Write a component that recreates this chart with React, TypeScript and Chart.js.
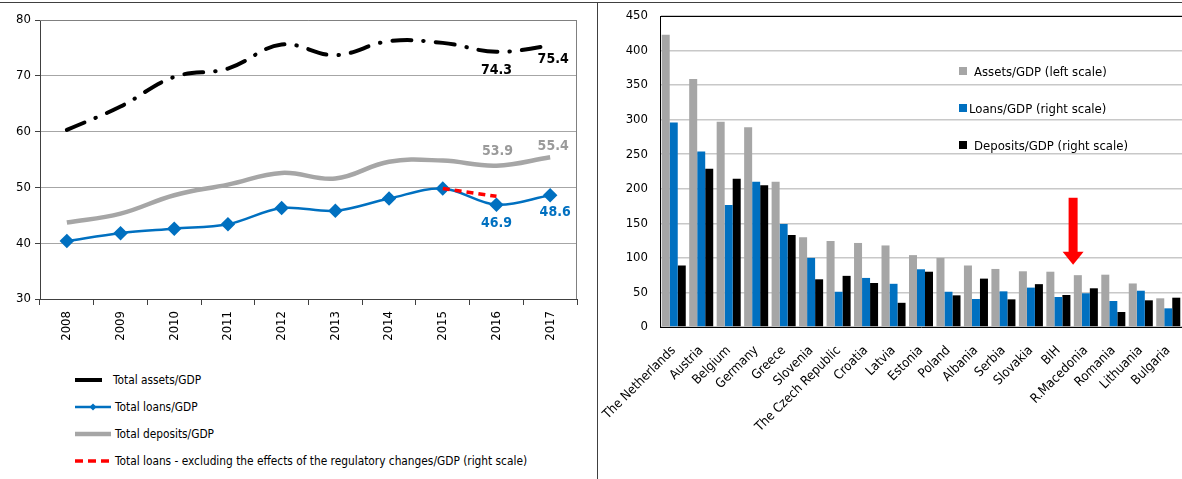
import React, { useEffect, useRef } from "react";
import { Chart, registerables } from "chart.js";
Chart.register(...registerables);

const FONT = '"DejaVu Sans Condensed", "Liberation Sans", sans-serif';

// Left chart data
const years = ["2008", "2009", "2010", "2011", "2012", "2013", "2014", "2015", "2016", "2017"];
const totalAssets = [60.3, 64.5, 69.8, 71.3, 75.6, 73.7, 76.2, 75.9, 74.3, 75.4];
const totalDeposits = [43.7, 45.3, 48.6, 50.5, 52.6, 51.6, 54.6, 54.8, 53.9, 55.4];
const totalLoans = [40.4, 41.8, 42.6, 43.4, 46.3, 45.8, 48.0, 49.8, 46.9, 48.6];
const loansExclRegulatory = [null, null, null, null, null, null, null, 49.8, 48.4, null];
const leftTicks = [30, 40, 50, 60, 70, 80];

// Right chart data
const countries = [
  "The Netherlands", "Austria", "Belgium", "Germany", "Greece", "Slovenia", "The Czech Republic",
  "Croatia", "Latvia", "Estonia", "Poland", "Albania", "Serbia", "Slovakia", "BIH",
  "R.Macedonia", "Romania", "Lithuania", "Bulgaria",
];
const assetsGdp = [423, 359, 297, 289, 210, 130, 124.5, 121.6, 118, 104, 100, 89, 84, 80.6, 80, 75, 75.7, 63, 41.5];
const loansGdp = [296, 254, 176.6, 210, 149, 100, 51, 71, 62.5, 83.5, 51, 40.5, 51.6, 57, 43.4, 48.8, 37.6, 52.5, 27];
const depositsGdp = [89, 229, 214.6, 205, 133, 69, 74, 63.7, 35, 80, 45.8, 70, 40, 62, 46.3, 56, 21.7, 38.6, 42.4];
const rightTicks = [0, 50, 100, 150, 200, 250, 300, 350, 400, 450];
const arrowTopValue = 187;
const arrowTipValue = 90;

const leftLegend = [
  { label: "Total assets/GDP", kind: "assets" },
  { label: "Total loans/GDP", kind: "loans" },
  { label: "Total deposits/GDP", kind: "deposits" },
  { label: "Total loans - excluding the effects of the regulatory changes/GDP (right scale)", kind: "red" },
];
const rightLegend = [
  { label: "Assets/GDP (left scale)", color: "#A6A6A6", gap: 7 },
  { label: "Loans/GDP (right scale)", color: "#0070C0", gap: 2 },
  { label: "Deposits/GDP (right scale)", color: "#000000", gap: 7 },
];

function LeftChart() {
  const ref = useRef<HTMLCanvasElement>(null);
  useEffect(() => {
    const canvas = ref.current!;
    const labelsPlugin = {
      id: "endLabels",
      afterDatasetsDraw(chart: any) {
        const ctx = chart.ctx;
        const x = chart.scales.x;
        const y = chart.scales.y;
        const items = [
          { v: totalAssets, i: 8, dx: 0, dy: 19, c: "#000000" },
          { v: totalAssets, i: 9, dx: 3, dy: 14, c: "#000000" },
          { v: totalDeposits, i: 8, dx: 1, dy: -14, c: "#9A9A9A" },
          { v: totalDeposits, i: 9, dx: 3, dy: -11, c: "#9A9A9A" },
          { v: totalLoans, i: 8, dx: 0, dy: 19, c: "#0070C0" },
          { v: totalLoans, i: 9, dx: 5, dy: 17, c: "#0070C0" },
        ];
        ctx.save();
        ctx.font = `bold 14px ${FONT}`;
        ctx.textAlign = "center";
        ctx.textBaseline = "middle";
        for (const it of items) {
          ctx.fillStyle = it.c;
          ctx.fillText(it.v[it.i].toFixed(1), x.getPixelForValue(it.i) + it.dx, y.getPixelForValue(it.v[it.i]) + it.dy);
        }
        ctx.restore();
      },
      beforeDatasetsDraw(chart: any) {
        const { ctx, chartArea } = chart;
        ctx.save();
        ctx.strokeStyle = "#808080";
        ctx.lineWidth = 1;
        ctx.beginPath();
        ctx.moveTo(chartArea.left, chartArea.top + 0.5);
        ctx.lineTo(chartArea.right, chartArea.top + 0.5);
        ctx.moveTo(chartArea.right - 0.5, chartArea.top);
        ctx.lineTo(chartArea.right - 0.5, chartArea.bottom);
        ctx.stroke();
        ctx.restore();
      },
    };
    const chart = new Chart(canvas, {
      type: "line",
      data: {
        labels: years,
        datasets: [
          {
            label: "Total loans - excluding the effects of the regulatory changes/GDP (right scale)",
            data: loansExclRegulatory as any,
            borderColor: "#FF0000",
            borderWidth: 3.5,
            borderDash: [7, 5],
            pointRadius: 0,
            tension: 0,
          },
          {
            label: "Total loans/GDP",
            data: totalLoans,
            borderColor: "#0070C0",
            backgroundColor: "#0070C0",
            pointBorderColor: "#0070C0",
            pointBackgroundColor: "#0070C0",
            borderWidth: 2.5,
            pointStyle: "rectRot",
            pointRadius: 5.5,
            tension: 0.35,
          },
          {
            label: "Total deposits/GDP",
            data: totalDeposits,
            borderColor: "#A6A6A6",
            borderWidth: 4.5,
            pointRadius: 0,
            tension: 0.4,
          },
          {
            label: "Total assets/GDP",
            data: totalAssets,
            borderColor: "#000000",
            borderWidth: 4,
            borderDash: [19, 12, 0.5, 12],
            borderCapStyle: "round",
            pointRadius: 0,
            tension: 0.4,
          },
        ],
      },
      options: {
        animation: false,
        responsive: false,
        maintainAspectRatio: false,
        layout: { padding: { top: 20, right: 20, left: 0, bottom: 0 } },
        plugins: { legend: { display: false }, tooltip: { enabled: false } },
        scales: {
          x: {
            offset: true,
            grid: { offset: true, drawOnChartArea: false, drawTicks: true, tickLength: 6, color: "#404040" },
            border: { color: "#404040", width: 1 },
            ticks: { minRotation: 90, maxRotation: 90, color: "#000", padding: 6, font: { family: FONT, size: 13 } },
            afterFit: (s: any) => {
              s.height = 63;
              s.paddingLeft = 0;
              s.paddingRight = 0;
            },
          },
          y: {
            min: 30,
            max: 80,
            afterBuildTicks: (s: any) => {
              s.ticks = leftTicks.map((v) => ({ value: v }));
            },
            grid: { color: "#A6A6A6", tickColor: "#404040", tickLength: 5, drawTicks: true },
            border: { color: "#404040", width: 1 },
            ticks: { color: "#000", padding: 4, font: { family: FONT, size: 13 } },
            afterFit: (s: any) => {
              s.width = 40;
              s.paddingTop = 0;
              s.paddingBottom = 0;
            },
          },
        },
      },
      plugins: [labelsPlugin],
    } as any);
    return () => chart.destroy();
  }, []);
  return <canvas ref={ref} width={597} height={362} style={{ position: "absolute", left: 0, top: 0, width: 597, height: 362 }} />;
}

function RightChart() {
  const ref = useRef<HTMLCanvasElement>(null);
  useEffect(() => {
    const canvas = ref.current!;
    const extras = {
      id: "extras",
      afterDatasetsDraw(chart: any) {
        const { ctx, chartArea } = chart;
        const x = chart.scales.x;
        const y = chart.scales.y;
        ctx.save();
        // top border
        ctx.strokeStyle = "#000";
        ctx.lineWidth = 1;
        ctx.beginPath();
        ctx.moveTo(chartArea.left, chartArea.top + 0.5);
        ctx.lineTo(chartArea.right, chartArea.top + 0.5);
        ctx.stroke();
        // arrow between BIH and R.Macedonia
        const cx = (x.getPixelForValue(14) + x.getPixelForValue(15)) / 2 + 1;
        const top = y.getPixelForValue(arrowTopValue);
        const tip = y.getPixelForValue(arrowTipValue);
        const headH = 13;
        ctx.fillStyle = "#FF0000";
        ctx.fillRect(cx - 4.5, top, 9, tip - top - headH + 1);
        ctx.beginPath();
        ctx.moveTo(cx - 10.5, tip - headH);
        ctx.lineTo(cx + 10.5, tip - headH);
        ctx.lineTo(cx, tip);
        ctx.closePath();
        ctx.fill();
        ctx.restore();
      },
    };
    const chart = new Chart(canvas, {
      type: "bar",
      data: {
        labels: countries,
        datasets: [
          { label: "Assets/GDP (left scale)", data: assetsGdp, backgroundColor: "#A6A6A6" },
          { label: "Loans/GDP (right scale)", data: loansGdp, backgroundColor: "#0070C0" },
          { label: "Deposits/GDP (right scale)", data: depositsGdp, backgroundColor: "#000000" },
        ],
      },
      options: {
        animation: false,
        responsive: false,
        maintainAspectRatio: false,
        datasets: { bar: { categoryPercentage: 0.875, barPercentage: 1 } },
        layout: { padding: { top: 16, right: 0, left: 0, bottom: 0 } },
        plugins: { legend: { display: false }, tooltip: { enabled: false } },
        scales: {
          x: {
            grid: { drawOnChartArea: false, drawTicks: false },
            border: { color: "#000", width: 1 },
            ticks: { minRotation: 45, maxRotation: 45, color: "#000", padding: 16, font: { family: FONT, size: 13 } },
            afterFit: (s: any) => {
              s.height = 152;
              s.paddingLeft = 0;
              s.paddingRight = 0;
            },
          },
          y: {
            min: 0,
            max: 450,
            afterBuildTicks: (s: any) => {
              s.ticks = rightTicks.map((v) => ({ value: v }));
            },
            grid: { color: "#C8C8C8", drawTicks: false, lineWidth: 1.5 },
            border: { color: "#000", width: 1 },
            ticks: { color: "#000", padding: 12, font: { family: FONT, size: 13 } },
            afterFit: (s: any) => {
              s.width = 60;
              s.paddingTop = 0;
              s.paddingBottom = 0;
            },
          },
        },
      },
      plugins: [extras],
    } as any);
    return () => chart.destroy();
  }, []);
  return <canvas ref={ref} width={582} height={479} style={{ position: "absolute", left: 600, top: 0, width: 582, height: 479 }} />;
}

function LegendSample({ kind }: { kind: string }) {
  if (kind === "assets")
    return (
      <svg width={27} height={8} style={{ marginRight: 11 }}>
        <line x1={0} y1={4} x2={27} y2={4} stroke="#000" strokeWidth={4} />
      </svg>
    );
  if (kind === "loans")
    return (
      <svg width={36} height={10} style={{ marginRight: 4 }}>
        <line x1={0} y1={5} x2={36} y2={5} stroke="#0070C0" strokeWidth={2.5} />
        <polygon points="18,1.5 21.5,5 18,8.5 14.5,5" fill="#0070C0" />
      </svg>
    );
  if (kind === "deposits")
    return (
      <svg width={36} height={8} style={{ marginRight: 4 }}>
        <line x1={0} y1={4} x2={36} y2={4} stroke="#A6A6A6" strokeWidth={4.5} />
      </svg>
    );
  return (
    <svg width={37} height={8} style={{ marginRight: 3 }}>
      <line x1={0} y1={4} x2={37} y2={4} stroke="#FF0000" strokeWidth={3.5} strokeDasharray="8 5" />
    </svg>
  );
}

export default function App() {
  useEffect(() => {
    document.body.style.margin = "0";
  }, []);
  return (
    <div style={{ position: "relative", width: 1182, height: 479, overflow: "hidden", background: "#fff", fontFamily: FONT }}>
      <LeftChart />
      <RightChart />
      <div style={{ position: "absolute", left: 0, top: 2, width: 1182, height: 1, background: "#404040" }} />
      <div style={{ position: "absolute", left: 597, top: 2, width: 1, height: 477, background: "#404040" }} />
      {leftLegend.map((e, i) => (
        <div key={e.label} style={{ position: "absolute", left: 75, top: 380 + i * 27 - 9, height: 18, display: "flex", alignItems: "center", fontSize: 11.8, color: "#000", whiteSpace: "nowrap" }}>
          <LegendSample kind={e.kind} />
          <span>{e.label}</span>
        </div>
      ))}
      {rightLegend.map((e, i) => (
        <div key={e.label} style={{ position: "absolute", left: 959, top: 71 + i * 37 - 9, height: 18, display: "flex", alignItems: "center", fontSize: 13, color: "#000", whiteSpace: "nowrap" }}>
          <div style={{ width: 8, height: 8, background: e.color }} />
          <span style={{ marginLeft: e.gap }}>{e.label}</span>
        </div>
      ))}
    </div>
  );
}
